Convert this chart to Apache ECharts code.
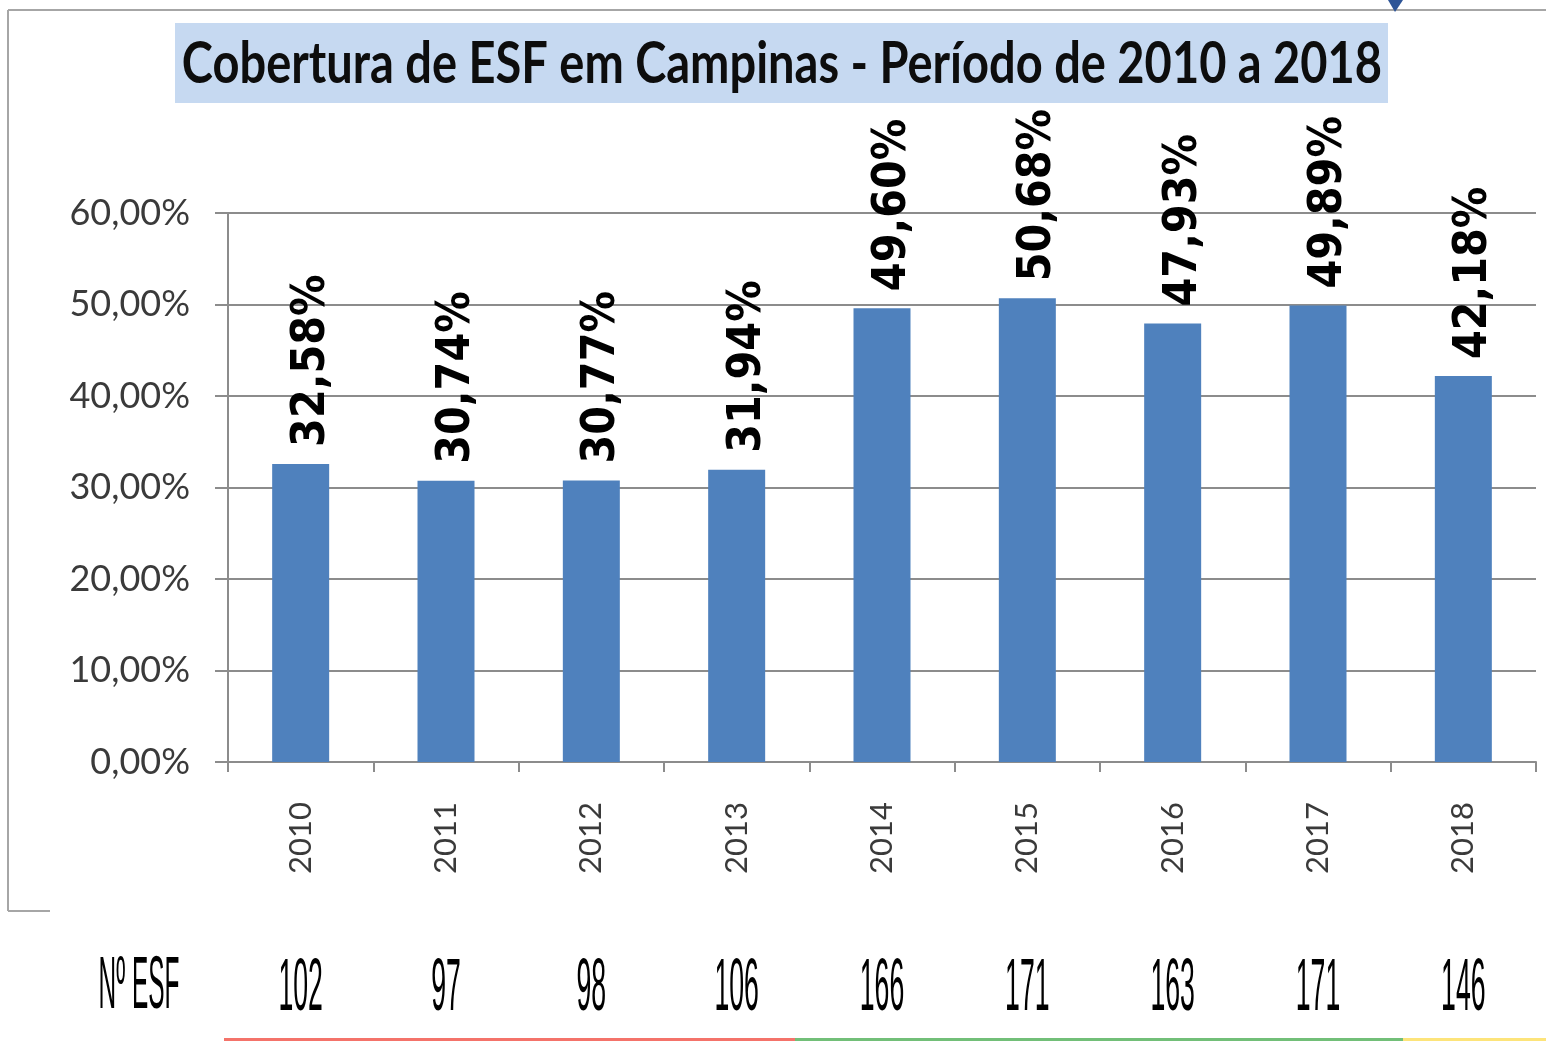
<!DOCTYPE html>
<html>
<head>
<meta charset="utf-8">
<title>Cobertura de ESF em Campinas</title>
<script src="https://cdn.jsdelivr.net/npm/echarts@6/dist/echarts.min.js"></script>
<style>
  html, body { margin: 0; padding: 0; background: #fff; }
  #chart { width: 1546px; height: 1041px; }
</style>
</head>
<body>
<div id="chart"></div>
<script>
// dados do gráfico
const anos = ['2010', '2011', '2012', '2013', '2014', '2015', '2016', '2017', '2018'];
const cobertura = [32.58, 30.74, 30.77, 31.94, 49.60, 50.68, 47.93, 49.89, 42.18];
const numEsf = [102, 97, 98, 106, 166, 171, 163, 171, 146];
const yTicks = [0, 10, 20, 30, 40, 50, 60];

const pct = v => v.toFixed(2).replace('.', ',') + '%';
const cinza = '#8c8c8c';
const fonteEstreita = '"Liberation Sans", Arial, sans-serif';

const chart = echarts.init(document.getElementById('chart'));

chart.setOption({
  animation: false,
  backgroundColor: '#ffffff',
  grid: { left: 228, right: 10, top: 213, bottom: 279 },
  xAxis: {
    type: 'category',
    data: anos,
    axisLine: { lineStyle: { color: cinza, width: 2 } },
    axisTick: { show: true, length: 10, lineStyle: { color: cinza, width: 2 } },
    axisLabel: {
      rotate: 90,
      margin: 40,
      color: '#3a3a3a',
      fontFamily: 'Lato, sans-serif',
      fontSize: 31
    }
  },
  yAxis: {
    type: 'value',
    min: yTicks[0],
    max: yTicks[yTicks.length - 1],
    interval: 10,
    axisLine: { show: true, lineStyle: { color: cinza, width: 2 } },
    axisTick: { show: true, length: 13, lineStyle: { color: cinza, width: 2 } },
    splitLine: { lineStyle: { color: cinza, width: 2 } },
    axisLabel: {
      margin: 38,
      color: '#3a3a3a',
      fontFamily: 'Lato, sans-serif',
      fontSize: 36,
      formatter: pct
    }
  },
  series: [
    {
      type: 'bar',
      data: cobertura,
      barWidth: 57,
      itemStyle: { color: '#4f81bd' },
      label: {
        show: true,
        position: 'top',
        rotate: 90,
        align: 'left',
        verticalAlign: 'middle',
        distance: 17,
        offset: [0, 11],
        color: '#000',
        fontFamily: '"DejaVu Sans Condensed", "DejaVu Sans", sans-serif',
        fontWeight: 'bold',
        fontSize: 46,
        formatter: p => pct(p.value)
      }
    },
    {
      // linha do Nº ESF abaixo de cada ano
      type: 'custom',
      clip: false,
      silent: true,
      data: numEsf.map((v, i) => [i, 0, v]),
      encode: { x: 0, y: 1 },
      renderItem: (params, api) => {
        const p = api.coord([api.value(0), 0]);
        return {
          type: 'text',
          x: p[0],
          y: 990,
          scaleX: 0.36,
          style: {
            text: String(api.value(2)),
            font: '74px ' + fonteEstreita,
            fill: '#000',
            align: 'center',
            verticalAlign: 'middle'
          }
        };
      }
    }
  ],
  graphic: [
    // moldura
    { type: 'line', shape: { x1: 8, y1: 10, x2: 1546, y2: 10 }, style: { stroke: '#a6a6a6', lineWidth: 2 } },
    { type: 'line', shape: { x1: 8, y1: 10, x2: 8, y2: 911 }, style: { stroke: '#a6a6a6', lineWidth: 2 } },
    { type: 'line', shape: { x1: 8, y1: 911, x2: 50, y2: 911 }, style: { stroke: '#a6a6a6', lineWidth: 2 } },
    { type: 'polygon', shape: { points: [[1388, 0], [1403, 0], [1395, 12]] }, style: { fill: '#2e5597' } },
    // título
    { type: 'rect', shape: { x: 175, y: 23, width: 1213, height: 80 }, style: { fill: '#c6d9f1' } },
    {
      type: 'text', x: 782, y: 65, scaleY: 1.2,
      style: {
        text: 'Cobertura de ESF em Campinas - Período de 2010 a 2018',
        font: 'bold 47px Lato, sans-serif',
        fill: '#0d0d0d',
        align: 'center',
        verticalAlign: 'middle'
      }
    },
    {
      type: 'text', x: 139, y: 988, scaleX: 0.33,
      style: { text: 'Nº ESF', font: '74px ' + fonteEstreita, fill: '#000', align: 'center', verticalAlign: 'middle' }
    },
    // faixas coloridas no rodapé
    { type: 'rect', shape: { x: 224, y: 1038, width: 571, height: 3 }, style: { fill: '#f4736a' } },
    { type: 'rect', shape: { x: 795, y: 1038, width: 608, height: 3 }, style: { fill: '#72bf78' } },
    { type: 'rect', shape: { x: 1403, y: 1038, width: 143, height: 3 }, style: { fill: '#fde47a' } }
  ]
});
</script>
</body>
</html>
